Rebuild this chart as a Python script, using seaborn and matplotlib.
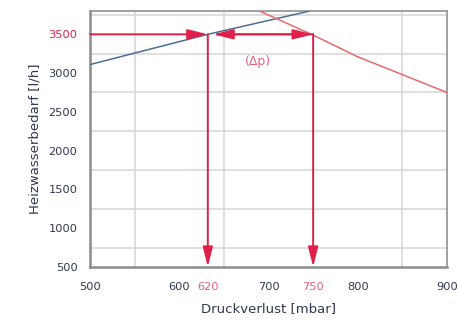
import matplotlib
matplotlib.use("Agg")
import matplotlib.pyplot as plt
from matplotlib.ticker import MultipleLocator
import seaborn as sns
import pandas as pd

# Anlagenkennlinie (blau) und Pumpenkennlinie (rot)
blue_x = [500, 632, 746]
blue_y = [3110, 3500, 3800]
red_x = [688, 750, 800, 900]
red_y = [3810, 3490, 3210, 2750]

# Betriebspunkt
flow = 3500
drop_x = [632, 750]          # Lage im Bild
drop_labels = ["620", "750"]  # Beschriftung im Bild
delta_pos = (688, 3150)

x_ticks = [500, 600, 700, 800, 900]
y_ticks = [500, 1000, 1500, 2000, 2500, 3000, 3500]

RED = "#e0204a"
BLUE = "#4c6e92"
LINE_RED = "#e86a6f"
TXT = "#2f3850"

sns.set_style("white")
plt.rcParams['font.family'] = ['DejaVu Sans']

fig = plt.figure(figsize=(4.58, 3.25), dpi=100)
ax = fig.add_axes([0.1965, 0.1785, 0.7795, 0.7875])

df_blue = pd.DataFrame({"x": blue_x, "y": blue_y})
df_red = pd.DataFrame({"x": red_x, "y": red_y})
sns.lineplot(data=df_blue, x="x", y="y", ax=ax, color=BLUE, lw=1.1, zorder=3)
sns.lineplot(data=df_red, x="x", y="y", ax=ax, color=LINE_RED, lw=1.1, zorder=3)

ax.set_xlim(500, 900)
ax.set_ylim(500, 3800)

# Gitter
ax.xaxis.set_minor_locator(MultipleLocator(50))
ax.yaxis.set_minor_locator(MultipleLocator(250))
ax.grid(False)
ax.grid(which="minor", color="#d6d6d6", lw=1.1)
ax.set_axisbelow(True)

# Ticks
xt = sorted(x_ticks + drop_x)
xl = [drop_labels[drop_x.index(v)] if v in drop_x else str(v) for v in xt]
ax.set_xticks(xt)
ax.set_xticklabels(xl)
ax.set_yticks(y_ticks)
ax.set_yticklabels([str(v) for v in y_ticks])
ax.tick_params(which="both", length=0)
ax.tick_params(axis="x", pad=11, labelsize=8.2, colors=TXT)
ax.tick_params(axis="y", pad=9, labelsize=8.2, colors=TXT)
for lab in ax.get_xticklabels():
    if lab.get_text() in drop_labels:
        lab.set_color("#e8607f")
for lab in ax.get_yticklabels():
    if lab.get_text() == str(flow):
        lab.set_color(RED)

for s in ["left", "bottom"]:
    ax.spines[s].set_color("#8c8c8c")
    ax.spines[s].set_linewidth(1.8)
for s in ["top", "right"]:
    ax.spines[s].set_color("#9a9a9a")
    ax.spines[s].set_linewidth(1.3)

# Pfeile am Betriebspunkt
head = "-|>,head_length=1.2,head_width=0.3"
ap = dict(arrowstyle=head, color=RED, lw=1.4, shrinkA=0, shrinkB=0)
ax.annotate("", xy=(drop_x[0], flow), xytext=(500, flow), arrowprops=ap, zorder=4)
ax.annotate("", xy=(drop_x[0] + 6, flow), xytext=(drop_x[1], flow), arrowprops=ap, zorder=4)
ax.annotate("", xy=(drop_x[1], flow), xytext=(drop_x[0] + 10, flow), arrowprops=ap, zorder=4)
for xv in drop_x:
    ax.annotate("", xy=(xv, 500), xytext=(xv, flow), arrowprops=ap, zorder=4)

ax.text(delta_pos[0], delta_pos[1], "(Δp)", color="#e8607f", fontsize=9,
        ha="center", va="center")

ax.set_xlabel("Druckverlust [mbar]", fontsize=9.5, color=TXT, labelpad=7)
ax.set_ylabel("Heizwasserbedarf [l/h]", fontsize=9.5, color=TXT, labelpad=5)

fig.savefig("out.png", dpi=100)
